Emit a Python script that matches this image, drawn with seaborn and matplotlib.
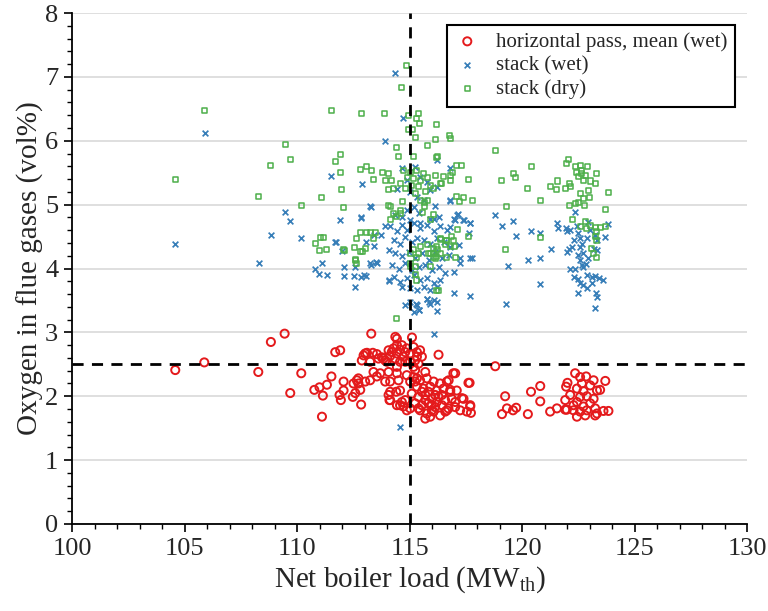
import matplotlib
matplotlib.use("Agg")
import matplotlib.pyplot as plt
import seaborn as sns
import pandas as pd
from matplotlib.ticker import MultipleLocator

# ---------------- data ----------------
series_names = ["horizontal pass, mean (wet)", "stack (wet)", "stack (dry)"]

hp_x = [104.58, 105.87, 108.83, 109.44, 108.27, 110.18, 109.69, 111.10, 110.76, 110.99, 111.32, 111.52, 111.14,
        111.69, 111.91, 112.06, 111.88, 111.94, 112.06, 112.84, 112.47, 112.58, 112.65, 112.72, 112.80, 113.29,
        112.95, 113.10, 113.36, 113.54, 113.84, 113.24, 113.39, 113.54, 113.91, 114.06, 114.10, 114.40, 114.43,
        114.72, 114.36, 115.10,
        114.43, 113.02, 113.76, 112.87, 113.24, 113.61, 114.06, 114.28, 114.57, 114.87, 114.13, 114.43, 114.72,
        115.02, 115.32, 115.46, 115.54, 115.24, 114.57, 113.98, 115.02, 115.17, 114.43, 113.91, 114.35, 114.80,
        114.65, 115.17, 115.39, 114.20, 114.43, 114.80, 115.32, 116.28,
        114.06, 114.43, 114.87, 115.24, 115.69, 114.13, 114.50, 115.02, 115.32, 113.69, 112.72, 113.02, 112.50,
        115.17, 115.46, 115.76, 116.06, 116.35, 116.65, 116.94, 115.32, 115.61, 115.91, 116.20, 116.50, 116.80,
        115.09, 115.39, 115.69, 115.98, 116.28, 116.57, 116.87, 115.24, 115.54, 115.83, 116.13, 116.43, 116.72,
        115.46, 115.76, 116.06, 116.35, 116.65, 117.02, 117.24, 117.54, 117.69, 117.39, 117.61, 117.09, 115.69,
        115.91, 115.02, 114.80, 114.13, 114.13, 114.57, 114.65, 114.57, 114.87,
        115.54, 115.83, 116.13, 115.98, 115.69, 115.39, 116.20, 116.43, 115.24, 115.98,
        117.66, 117.32, 117.69, 117.72, 116.58, 117.02, 117.02, 116.73, 116.80,
        118.80, 119.24, 120.39, 120.80, 120.80, 119.10, 119.32, 119.59, 119.73, 120.25, 121.24, 121.54, 121.91,
        122.35, 122.57, 122.84, 123.17, 123.69, 122.01, 121.95, 122.43, 122.72, 123.32, 123.46, 122.13, 122.57,
        122.87, 123.17, 121.91, 122.43, 122.72, 123.02, 123.24, 121.98, 122.28, 122.57, 122.87, 123.32, 123.61,
        123.83, 122.43, 122.80, 123.24, 122.65, 123.02, 122.28]
hp_y = [2.41, 2.53, 2.85, 2.98, 2.38, 2.36, 2.05, 1.68, 2.10, 2.14, 2.18, 2.31, 2.01,
        2.69, 2.72, 2.23, 2.02, 1.94, 2.09, 1.87, 1.99, 2.05, 2.25, 2.20, 2.10, 2.98,
        2.64, 2.68, 2.68, 2.66, 2.59, 2.25, 2.38, 2.31, 2.23, 2.02, 1.94, 2.07, 1.86,
        1.84, 2.93, 2.92,
        2.90, 2.67, 2.61, 2.56, 2.54, 2.59, 2.72, 2.75, 2.73, 2.75, 2.63, 2.67, 2.62,
        2.67, 2.69, 2.72, 2.62, 2.56, 2.54, 2.54, 2.54, 2.46, 2.46, 2.56, 2.59, 2.69,
        2.80, 2.77, 2.51, 2.69, 2.80, 2.54, 2.62, 2.65,
        2.38, 2.36, 2.33, 2.41, 2.38, 2.23, 2.25, 2.23, 2.28, 2.36, 2.28, 2.23, 2.20,
        2.30, 2.25, 2.28, 2.23, 2.20, 2.23, 2.36, 2.15, 2.12, 2.15, 2.09, 2.12, 2.07,
        2.04, 1.99, 2.02, 1.96, 1.99, 1.94, 1.96, 1.89, 1.86, 1.89, 1.83, 1.86, 1.81,
        1.78, 1.73, 1.76, 1.70, 1.78, 1.83, 1.78, 1.76, 1.86, 1.96, 2.21, 2.09, 1.65,
        1.68, 1.81, 1.94, 2.07, 1.94, 2.09, 1.91, 1.86, 1.78,
        2.07, 2.07, 2.02, 1.86, 1.94, 1.81, 1.91, 2.02, 2.23, 1.78,
        2.21, 1.97, 1.84, 1.74, 1.76, 1.91, 2.36, 2.25, 2.10,
        2.47, 2.00, 2.07, 2.16, 1.92, 1.72, 1.81, 1.78, 1.82, 1.72, 1.76, 1.81, 1.79,
        2.36, 2.30, 2.31, 2.25, 2.24, 2.21, 2.15, 2.12, 2.08, 2.09, 2.10, 2.02, 1.99,
        2.00, 1.96, 1.94, 1.91, 1.84, 1.89, 1.81, 1.79, 1.78, 1.76, 1.78, 1.73, 1.77,
        1.77, 1.68, 1.70, 1.70, 2.20, 2.17, 1.86]

wet_x = [114.36, 114.70, 113.88, 105.88, 104.58, 111.51, 112.87, 109.47, 109.69, 108.83, 110.18, 108.28, 111.91,
         112.84, 113.29, 111.70, 111.99, 113.05, 113.42, 111.10, 110.77, 110.99, 111.32, 112.06, 112.06, 112.53,
         112.58, 112.84, 113.05, 113.27, 113.51, 112.58, 114.10, 114.77, 115.29, 115.17, 115.39, 115.84, 116.06,
         116.21, 115.76, 116.06, 114.55, 117.66, 116.95, 117.69, 117.24, 117.24, 116.80, 116.77, 116.21, 117.13,
         117.36, 117.66, 116.98, 116.80,
         118.80, 119.10, 119.59, 119.72, 120.39, 120.80, 121.28, 120.80, 120.25, 119.35, 120.80, 119.26,
         121.54, 121.57, 121.95, 122.01, 122.13, 122.35, 122.43, 122.50, 122.57, 122.28, 122.65, 122.87, 122.94,
         123.02, 123.24, 123.32, 123.83, 123.69, 122.10, 122.20, 122.57, 123.17, 123.32, 121.98, 122.50, 122.94,
         122.57, 122.65, 122.84, 122.72, 122.13, 122.35, 122.87, 123.09, 123.24, 123.39, 123.61, 122.28, 122.50,
         122.57, 122.72, 122.87, 123.09, 122.50, 123.29, 123.32, 123.24, 122.72,
         114.14, 114.43, 114.66, 114.88, 115.17, 115.47, 115.77, 116.06, 116.36, 116.66, 114.28, 114.58, 114.80,
         115.10, 115.32, 115.62, 115.91, 116.21, 116.51, 116.80, 114.06, 114.36, 114.66, 114.95, 115.25, 115.54,
         115.84, 116.14, 116.43, 116.73, 114.21, 114.51, 114.80, 115.10, 115.40, 115.69, 115.99, 116.28, 116.58,
         116.95, 114.28, 114.58, 114.88, 115.17, 115.47, 115.77, 116.06, 116.36, 115.62, 115.91, 116.21, 115.32,
         115.03, 114.66, 114.06, 116.21, 115.77, 115.91, 115.32, 115.40, 115.03,
         112.95, 113.25, 113.54, 111.74, 113.40, 113.72, 113.91, 117.77, 117.17, 117.62,
         114.66, 114.88, 115.25, 115.47, 115.77, 116.21, 115.91, 115.03, 115.32, 114.43, 115.62, 113.25, 112.83,
         116.28, 116.80, 117.10, 117.03, 117.40, 117.69, 116.14, 116.06, 114.88, 115.17, 114.66, 114.36, 115.03,
         115.47, 115.91, 115.40]
wet_y = [7.06, 6.36, 6.00, 6.12, 4.39, 5.45, 5.32, 4.88, 4.74, 4.53, 4.48, 4.08, 4.76,
         4.79, 4.97, 4.42, 4.28, 4.41, 4.35, 4.08, 4.00, 3.92, 3.90, 4.03, 3.88, 3.88,
         4.03, 3.87, 3.88, 4.05, 4.10, 3.71, 3.81, 3.43, 3.44, 3.32, 3.35, 3.48, 3.51,
         3.34, 3.53, 2.97, 1.52, 3.57, 3.62, 4.16, 4.16, 4.08, 5.05, 5.57, 5.70, 4.85,
         4.76, 4.72, 4.78, 4.65,
         4.84, 4.66, 4.75, 4.51, 4.58, 4.55, 4.31, 4.17, 4.14, 4.04, 3.76, 3.44,
         4.72, 4.63, 4.64, 4.58, 4.61, 4.89, 4.66, 4.55, 4.47, 4.44, 4.39, 4.47, 4.73,
         4.61, 4.52, 4.44, 4.70, 4.49, 4.31, 4.34, 4.34, 4.31, 4.29, 4.26, 4.21, 4.17,
         4.14, 4.05, 4.07, 4.03, 4.00, 3.99, 3.90, 3.87, 3.88, 3.85, 3.82, 3.87, 3.83,
         3.77, 3.74, 3.69, 3.78, 3.61, 3.61, 3.55, 3.38, 4.24,
         4.66, 4.58, 4.68, 4.60, 4.71, 4.63, 4.68, 4.58, 4.66, 4.60, 4.45, 4.39, 4.50,
         4.42, 4.47, 4.45, 4.39, 4.47, 4.42, 4.34, 4.29, 4.24, 4.19, 4.26, 4.16, 4.24,
         4.13, 4.26, 4.16, 4.21, 4.06, 4.00, 4.08, 3.98, 4.03, 4.06, 3.98, 4.03, 3.93,
         3.95, 3.87, 3.79, 3.85, 3.90, 3.82, 3.85, 3.77, 3.82, 3.71, 3.66, 3.71, 3.66,
         3.69, 3.71, 3.82, 3.48, 3.53, 3.45, 3.43, 3.35, 3.48,
         3.90, 4.08, 4.09, 4.42, 4.52, 4.52, 4.66, 4.16, 4.37, 4.55,
         5.57, 5.38, 5.59, 5.44, 5.36, 5.28, 5.23, 5.20, 5.12, 5.24, 5.07, 4.98, 4.80,
         4.81, 5.07, 4.84, 4.76, 4.76, 4.72, 4.98, 4.78, 4.91, 4.97, 4.81, 4.84, 4.76,
         4.71, 4.78, 4.87]

dry_x = [114.87, 114.65, 105.88, 104.57, 111.54, 112.87, 113.86, 114.40,
         114.95, 115.40, 115.32, 115.44, 116.21, 115.14, 114.95, 115.25, 116.14, 116.77, 116.80, 114.43, 114.51,
         115.77, 116.21, 115.17, 111.91, 111.69, 111.91, 111.99, 112.06, 112.80, 113.10, 113.32, 113.40, 113.77,
         114.06, 113.91, 114.21, 114.28, 114.06, 117.10, 117.32, 116.88, 116.80, 117.62, 117.10, 117.40, 117.77,
         114.14, 114.58, 114.66, 115.47, 115.77,
         114.73, 115.03, 115.32, 115.62, 114.88, 115.17, 115.47, 115.77, 114.58, 115.10, 115.40, 115.91, 114.80,
         115.25, 115.69, 116.06, 116.36, 116.51,
         109.46, 109.68, 108.83, 108.28, 110.17, 111.09,
         111.02, 111.17, 110.80, 110.99, 111.31, 112.06, 112.53, 112.65, 112.80, 113.09, 113.24, 113.39, 113.46,
         112.57, 112.83, 113.02, 112.65, 112.09, 112.58, 112.88,
         116.35, 116.20, 116.65, 116.87, 116.97, 116.35, 116.05, 115.91, 115.83, 115.31, 115.02, 115.02, 115.24,
         116.05, 115.46, 114.06, 114.28, 114.13, 114.43, 114.57, 116.28, 115.64, 115.64, 115.58, 115.91, 116.05,
         115.77, 115.91, 116.21, 115.40, 115.17, 115.03, 115.25, 115.32, 116.21,
         117.22, 116.24, 116.13, 116.43, 116.80,
         117.62, 117.13, 116.95, 116.65, 116.58, 116.36, 116.24, 116.80, 116.06, 116.13, 116.65, 117.02,
         118.80, 119.10, 119.59, 119.72, 120.39, 120.80, 119.32, 119.25, 120.80, 120.25,
         121.27, 121.57, 121.54, 121.91, 122.10, 122.16, 121.95, 122.06,
         122.35, 122.57, 122.90, 122.43, 122.65, 122.50, 122.72, 122.65, 122.79, 123.02, 123.24, 123.32, 122.57,
         122.94, 122.72, 122.50, 122.35, 122.10, 122.75, 122.97, 123.83, 123.69,
         122.25, 122.57, 122.80, 123.02, 123.24, 123.32, 123.46, 123.69, 122.84, 123.24, 123.32, 123.09, 123.17,
         123.29]
dry_y = [7.18, 6.83, 6.47, 5.39, 6.47, 6.43, 6.43, 3.22,
         6.40, 6.43, 6.35, 6.27, 6.26, 6.18, 6.17, 6.05, 6.02, 6.09, 6.04, 5.89, 5.76,
         5.92, 5.74, 5.76, 5.78, 5.67, 5.50, 5.24, 4.95, 5.55, 5.59, 5.53, 5.39, 5.51,
         5.49, 5.38, 5.38, 5.25, 5.23, 5.62, 5.62, 5.50, 5.38, 5.39, 5.12, 5.11, 5.07,
         4.97, 4.91, 5.05, 5.07, 5.07,
         5.54, 5.51, 5.54, 5.49, 5.43, 5.41, 5.38, 5.43, 5.33, 5.30, 5.28, 5.30, 5.25,
         5.17, 5.20, 5.25, 5.33, 5.44,
         5.94, 5.71, 5.61, 5.12, 4.98, 5.11,
         4.49, 4.49, 4.39, 4.28, 4.30, 4.29, 4.33, 4.47, 4.57, 4.56, 4.57, 4.47, 4.56,
         4.13, 4.26, 4.31, 4.08, 4.28, 4.14, 4.26,
         4.45, 4.34, 4.44, 4.50, 4.34, 4.24, 4.18, 4.03, 4.24, 4.18, 4.24, 4.08, 4.03,
         4.31, 4.34, 4.98, 4.86, 4.76, 4.81, 4.86, 3.66, 5.04, 4.97, 4.87, 4.76, 4.84,
         4.37, 4.24, 4.19, 4.24, 4.29, 4.03, 3.90, 3.82, 3.65,
         5.05, 5.75, 5.46, 5.33, 5.46,
         4.50, 4.61, 4.44, 4.44, 4.37, 4.47, 4.29, 4.34, 4.24, 4.16, 4.18, 4.17,
         5.85, 5.38, 5.48, 5.42, 5.59, 5.06, 4.97, 4.30, 4.49, 5.26,
         5.29, 5.37, 5.24, 5.25, 5.33, 5.29, 5.64, 5.71,
         5.60, 5.62, 5.59, 5.51, 5.54, 5.44, 5.38, 5.49, 5.46, 5.37, 5.33, 5.49, 5.18,
         5.22, 5.10, 5.04, 5.02, 4.98, 4.99, 5.11, 5.19, 4.92,
         4.76, 4.66, 4.73, 4.68, 4.64, 4.58, 4.64, 4.66, 4.63, 4.50, 4.44, 4.31, 4.24,
         4.18]

x_limit_load = 115.0
y_limit_oxygen = 2.5

df = pd.concat([
    pd.DataFrame({"load": hp_x, "o2": hp_y, "series": series_names[0]}),
    pd.DataFrame({"load": wet_x, "o2": wet_y, "series": series_names[1]}),
    pd.DataFrame({"load": dry_x, "o2": dry_y, "series": series_names[2]}),
], ignore_index=True)

# ---------------- style ----------------
sns.set_style("white")
plt.rcParams["font.family"] = ["Liberation Serif", "DejaVu Serif"]
plt.rcParams["mathtext.fontset"] = "custom"
plt.rcParams["mathtext.rm"] = "Liberation Serif"
plt.rcParams["mathtext.it"] = "Liberation Serif:italic"

RED = "#e41a1c"
BLUE = "#377eb8"
GREEN = "#4daf4a"

fig = plt.figure(figsize=(7.68, 6.11), dpi=100)
ax = fig.add_axes([0.094, 0.1424, 0.879, 0.8363])

sub = df[df.series == series_names[0]]
sns.scatterplot(data=sub, x="load", y="o2", ax=ax, marker="o", s=34,
                facecolors="none", edgecolor=RED, linewidth=1.4,
                label=series_names[0], zorder=3)
sub = df[df.series == series_names[1]]
sns.scatterplot(data=sub, x="load", y="o2", ax=ax, marker="x", s=17,
                color=BLUE, linewidth=1.25, label=series_names[1], zorder=3)
sub = df[df.series == series_names[2]]
sns.scatterplot(data=sub, x="load", y="o2", ax=ax, marker="s", s=13,
                facecolors="none", edgecolor=GREEN, linewidth=1.1,
                label=series_names[2], zorder=3)

ax.axvline(x_limit_load, color="black", linestyle=(0, (4, 3)), linewidth=2.0, zorder=4)
ax.axhline(y_limit_oxygen, color="black", linestyle=(0, (4, 3)), linewidth=2.0, zorder=4)

ax.set_xlim(100, 130)
ax.set_ylim(0, 8)
ax.xaxis.set_major_locator(MultipleLocator(5))
ax.xaxis.set_minor_locator(MultipleLocator(1))
ax.yaxis.set_major_locator(MultipleLocator(1))
ax.yaxis.set_minor_locator(MultipleLocator(0.2))
ax.grid(axis="y", which="major", color="#d9d9d9", linewidth=1.2, zorder=0)
ax.set_axisbelow(True)

for side in ["top", "right"]:
    ax.spines[side].set_visible(False)
for side in ["left", "bottom"]:
    ax.spines[side].set_color("black")
    ax.spines[side].set_linewidth(1.3)

ax.tick_params(axis="both", which="major", direction="out", length=6, width=1.2,
               labelsize=19, color="black", left=True, bottom=True, pad=4)
ax.tick_params(axis="both", which="minor", direction="out", length=3.5, width=1.0,
               color="black", left=True, bottom=True)

ax.set_xlabel(r"Net boiler load (MW$_{\mathrm{th}}$)", fontsize=21, labelpad=3)
ax.set_ylabel("Oxygen in flue gases (vol%)", fontsize=21, labelpad=1)

leg = ax.legend(loc="upper right", bbox_to_anchor=(0.982, 0.977), borderaxespad=0,
                fontsize=15, frameon=True, fancybox=False, edgecolor="black",
                framealpha=1, handlelength=1.2, handletextpad=0.8, borderpad=0.35,
                labelspacing=0.2, markerscale=1.0)
leg.get_frame().set_linewidth(1.5)

fig.savefig("out.png", dpi=100)
